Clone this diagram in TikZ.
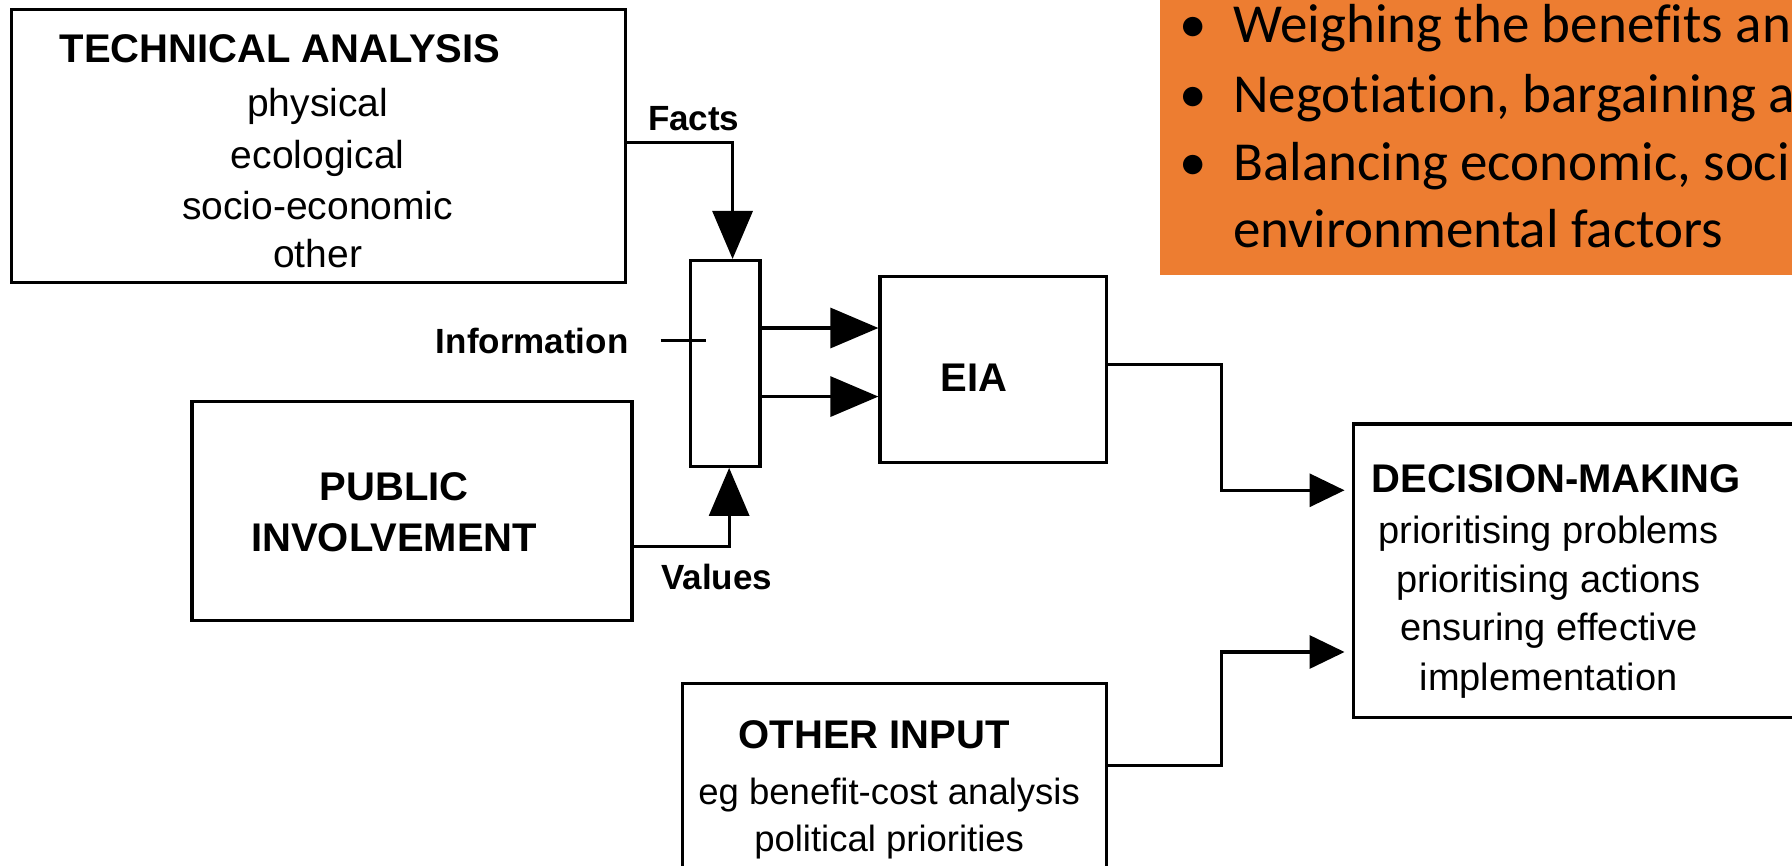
\documentclass[tikz,border=0pt]{standalone}
\usepackage{fontspec}
\setmainfont{Liberation Sans}
\newfontfamily\calibri[Ligatures=NoCommon]{Carlito}
\usetikzlibrary{arrows.meta,fit,calc}
\definecolor{orng}{HTML}{ED7D31}
\begin{document}
\begin{tikzpicture}[x=1.142857pt,y=-1.142857pt,
 box/.style={draw,line width=3.2pt,inner sep=0pt},
 wire/.style={line width=3.2pt},
 bigtip/.style={wire,-{Triangle[length=48pt,width=40pt]}},
 midtip/.style={wire,-{Triangle[length=48pt,width=40pt]}},
 smalltip/.style={wire,-{Triangle[length=35pt,width=33pt]},shorten >=7pt},
 hd/.style={font=\fontsize{40}{48}\selectfont\bfseries,inner sep=0pt,text height=28.6pt,text depth=0pt},
 tx/.style={font=\fontsize{39}{46}\selectfont,inner sep=0pt,text height=28pt,text depth=0pt},
 lb/.style={font=\fontsize{35}{42}\selectfont\bfseries,inner sep=0pt,text height=25pt,text depth=0pt},
 bl/.style={font=\calibri\fontsize{55}{65}\selectfont,inner sep=0pt,anchor=base west}
]
\useasboundingbox[fill=white] (0,0) rectangle (1568,757.75);
% orange panel
\node[fill=orng,inner sep=0pt,fit={(1015,-10) (1580,240.5)}] (orange) {};
\node[bl] (bul1) at (1032,37.6) {•};
\node[bl] (bt1) at (1079,37.6) {Weighing the benefits an};
\node[bl] (bul2) at (1032,98) {•};
\node[bl] (bt2) at (1079,98) {Negotiation, bargaining a};
\node[bl] (bul3) at (1032,157.5) {•};
\node[bl] (bt3) at (1079,157.5) {Balancing economic, soci};
\node[bl] (bt4) at (1079,216.5) {environmental factors};
% boxes
\node[box,fit={(10,8) (547,247)}] (tech) {};
\node[box,fit={(604,228) (665,408)}] (bar) {};
\node[box,fit={(770,242) (968,405)}] (eia) {};
\node[box,fit={(168,351) (553,543)}] (pi) {};
\node[box,fit={(1184,371) (1600,628)}] (dm) {};
\node[box,fit={(597,598) (968,800)}] (oi) {};
% texts
\node[hd,anchor=west] (tah) at (52,42) {TECHNICAL ANALYSIS};
\node[tx] (t1) at (278,90) {physical};
\node[tx] (t2) at (278,135) {ecological};
\node[tx] (t3) at (278,180) {socio-economic};
\node[tx] (t4) at (278,222) {other};
\node[lb,anchor=east] (info) at (550,298) {Information};
\node[lb] (facts) at (607,103) {Facts};
\node[lb] (values) at (627,505) {Values};
\node[hd] (eiat) at (852,330) {EIA};
\node[hd] (pub) at (345,425) {PUBLIC};
\node[hd] (inv) at (345,470) {INVOLVEMENT};
\node[hd,anchor=west] (dmh) at (1200,418) {DECISION-MAKING};
\node[tx,font=\fontsize{38}{45}\selectfont] (d1) at (1355,463) {prioritising problems};
\node[tx,font=\fontsize{38}{45}\selectfont] (d2) at (1355,506) {prioritising actions};
\node[tx,font=\fontsize{38}{45}\selectfont] (d3) at (1355,548) {ensuring effective};
\node[tx,font=\fontsize{38}{45}\selectfont] (d4) at (1355,592) {implementation};
\node[hd] (oih) at (765,642) {OTHER INPUT};
\node[tx,font=\fontsize{36.5}{44}\selectfont] (o1) at (778,692) {eg benefit-cost analysis};
\node[tx,font=\fontsize{36.5}{44}\selectfont] (o2) at (778,733) {political priorities};
% connector levels
\coordinate (fy) at (0,124.5);
\coordinate (fx) at (641,0);
\coordinate (vx) at (638,0);
\coordinate (a1) at (700,287);
\coordinate (a2) at (700,347);
\coordinate (vy) at (0,478.5);
\coordinate (ey) at (0,319);
\coordinate (ex) at (1069,0);
\coordinate (d1y) at (0,429);
\coordinate (oy) at (0,670);
\coordinate (d2y) at (0,570.5);
% connectors
\draw[bigtip] (tech.east |- fy) -- (fx |- fy) -- (fx |- bar.north);
\draw[bigtip] (pi.east |- vy) -- (vx |- vy) -- (vx |- bar.south);
\draw[midtip] (bar.east |- a1) -- (eia.west |- a1);
\draw[midtip] (bar.east |- a2) -- (eia.west |- a2);
\draw[wire] ($(info.east)+(28,0)$) -- ($(info.east)+(68,0)$);
\draw[smalltip] (eia.east |- ey) -- (ex |- ey) -- (ex |- d1y) -- (dm.west |- d1y);
\draw[smalltip] (oi.east |- oy) -- (ex |- oy) -- (ex |- d2y) -- (dm.west |- d2y);
\end{tikzpicture}
\end{document}
